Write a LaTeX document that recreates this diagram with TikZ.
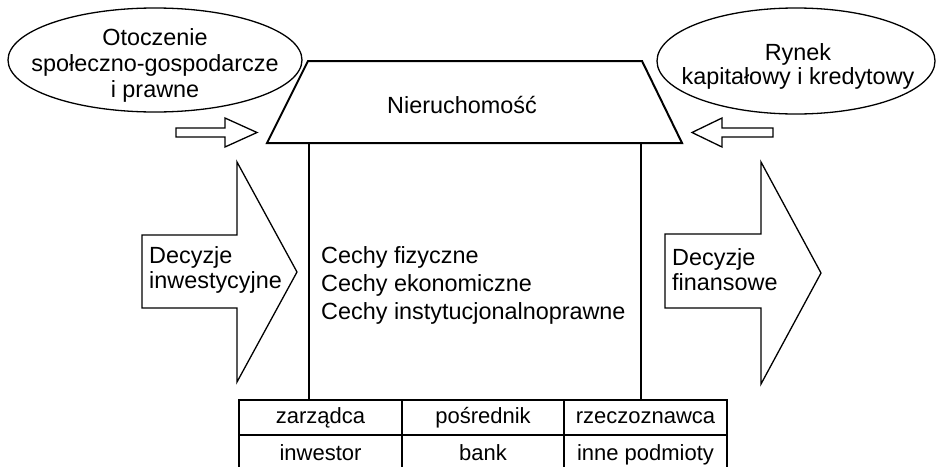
\documentclass[tikz,border=0pt]{standalone}
\usepackage{fontspec}
\setmainfont{Liberation Sans}
\usetikzlibrary{shapes.geometric}
\begin{document}
\begin{tikzpicture}[x=1pt,y=-1pt,
  thin line/.style={line width=1.3pt,line join=miter},
  thick line/.style={line width=2pt,line join=miter},
  txt/.style={inner sep=0pt,font=\fontsize{23.4}{26}\selectfont},
  celltxt/.style={inner sep=0pt,anchor=base,font=\fontsize{22}{26}\selectfont},
  oval/.style={ellipse,draw,thin line,inner sep=0pt}]
\useasboundingbox (0,0) rectangle (936,466);
\clip (0,0) rectangle (936,466);
\fill[white] (0,0) rectangle (936,466);
% ellipses
\node[oval,minimum width=294pt,minimum height=104pt] (env) at (155,60) {};
\node[txt,align=center,font=\fontsize{23.4}{26}\selectfont] (envt) at (155,65) {Otoczenie\\społeczno-gospodarcze\\i prawne};
\node[oval,minimum width=278pt,minimum height=106pt] (mkt) at (796,61) {};
\node[txt,align=center,font=\fontsize{23.4}{24}\selectfont] (mktt) at (798,66) {Rynek\\kapitałowy i kredytowy};
% roof and walls
\draw[thick line] (308,61) -- (642,61) -- (682,143) -- (267,143) -- cycle;
\node[txt,anchor=base] (roof) at (462,113) {Nieruchomość};
\draw[thick line] (309,143) -- (309,400) -- (641,400) -- (641,143);
\node[txt,align=left,anchor=west,font=\fontsize{23.4}{28}\selectfont] (feat) at (321,285) {Cechy fizyczne\\Cechy ekonomiczne\\Cechy instytucjonalnoprawne};
% small arrows
\draw[thin line] (176,128) -- (225,128) -- (225,118) -- (257,132.5) -- (225,147) -- (225,137) -- (176,137) -- cycle;
\draw[thin line] (773,128) -- (722,128) -- (722,118) -- (692,132.5) -- (722,147) -- (722,137) -- (773,137) -- cycle;
% large arrows
\draw[thin line] (142,235) -- (237,235) -- (237,162) -- (297,272) -- (237,382) -- (237,308) -- (142,308) -- cycle;
\node[txt,align=left,anchor=west,font=\fontsize{23.4}{25}\selectfont] (inv) at (149,270) {Decyzje\\inwestycyjne};
\draw[thin line] (665,234) -- (761,234) -- (761,162) -- (821,273) -- (761,384) -- (761,308) -- (665,308) -- cycle;
\node[txt,align=left,anchor=west,font=\fontsize{23.4}{25}\selectfont] (fin) at (672,270) {Decyzje\\finansowe};
% table
\draw[thin line] (239,400) rectangle (727,480);
\draw[thin line] (239,435) -- (727,435);
\draw[thin line] (402,400) -- (402,480);
\draw[thin line] (564,400) -- (564,480);
\node[celltxt] (c11) at (320.5,423) {zarządca};
\node[celltxt] (c12) at (483,423) {pośrednik};
\node[celltxt] (c13) at (645.5,423) {rzeczoznawca};
\node[celltxt] (c21) at (320.5,460) {inwestor};
\node[celltxt] (c22) at (483,460) {bank};
\node[celltxt] (c23) at (645.5,460) {inne podmioty};
\end{tikzpicture}
\end{document}
